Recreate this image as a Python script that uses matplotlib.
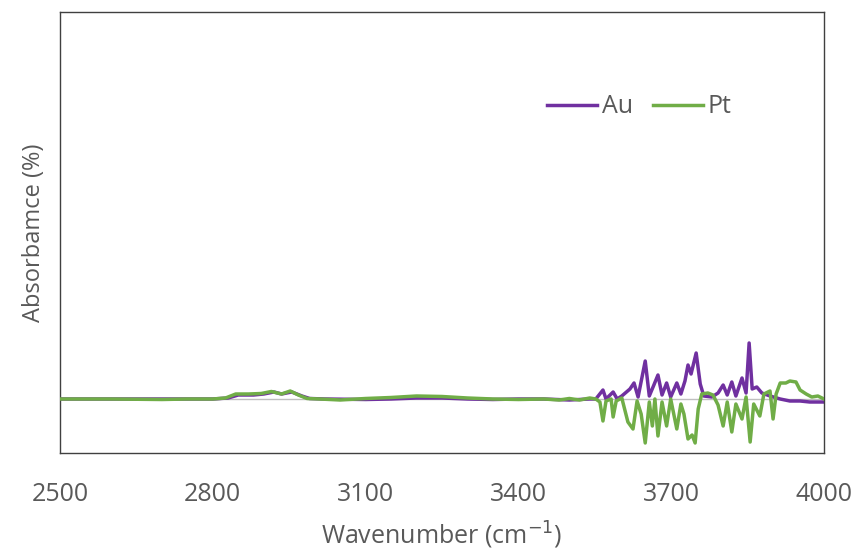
import matplotlib.pyplot as plt

plt.rcParams['font.family'] = ['Open Sans', 'DejaVu Sans']

# Au (purple) spectrum
au_wn = [2500, 2600, 2700, 2800, 2830, 2850, 2880, 2900, 2920, 2935, 2955, 2975, 2990,
         3020, 3100, 3150, 3200, 3250, 3300, 3350, 3400, 3450, 3500, 3540,
         3552, 3566, 3572, 3586, 3594, 3603, 3619, 3627, 3635, 3649, 3657, 3666,
         3674, 3682, 3691, 3699, 3711, 3719, 3727, 3733, 3739, 3749, 3757, 3764,
         3780, 3792, 3802, 3810, 3819, 3827, 3839, 3847, 3853, 3859, 3868, 3878,
         3894, 3914, 3933, 3953, 3972, 4000]
au_val = [0, 0, 0, 0, 0.1, 0.4, 0.4, 0.5, 0.7, 0.5, 0.7, 0.3, 0.05,
          0, -0.05, 0, 0.1, 0.1, 0, -0.05, 0, 0, -0.1, 0,
          0, 0.9, 0, 0.7, 0, 0.3, 1.0, 1.6, 0.2, 3.8, 0.3, 1.4,
          2.4, 0.4, 1.6, 0.2, 1.6, 0.5, 1.8, 3.4, 2.5, 4.6, 1.5, 0.3,
          0.2, 0.6, 1.4, 0.4, 1.7, 0.3, 2.1, 0.6, 5.6, 1.0, 1.2, 0.6,
          0.3, 0.0, -0.2, -0.2, -0.3, -0.3]

# Pt (green) spectrum
pt_wn = [2500, 2600, 2700, 2750, 2800, 2825, 2845, 2870, 2895, 2915, 2935, 2952, 2968,
         2985, 3010, 3050, 3100, 3150, 3200, 3250, 3300, 3350, 3400, 3450, 3480,
         3500, 3520, 3540,
         3552, 3560, 3566, 3572, 3582, 3586, 3592, 3603, 3615, 3625, 3633, 3641,
         3649, 3657, 3663, 3668, 3674, 3682, 3691, 3699, 3711, 3719, 3725, 3733,
         3741, 3747, 3753, 3760, 3772, 3782, 3792, 3802, 3810, 3819, 3827, 3839,
         3847, 3855, 3862, 3874, 3882, 3894, 3900, 3906, 3914, 3925, 3933, 3945,
         3953, 3965, 3976, 3988, 4000]
pt_val = [0, 0, -0.05, 0, 0, 0.1, 0.5, 0.5, 0.55, 0.75, 0.5, 0.8, 0.4,
          0.05, 0, -0.1, 0.05, 0.15, 0.3, 0.25, 0.1, 0, -0.05, 0, -0.1,
          0.05, -0.1, 0.1,
          0, -0.3, -2.2, -0.2, 0, -1.8, -0.2, 0.1, -2.3, -3.0, -0.2, -1.5,
          -4.4, -0.3, -2.7, 0, -3.7, -0.3, -2.7, 0, -3.0, -0.5, -1.5, -4.0,
          -3.6, -4.4, -1.0, 0.5, 0.6, 0.4, -0.6, -2.7, -0.3, -3.3, -0.5, -2.0,
          0.2, -4.3, -0.5, -1.7, 0.5, 0.8, -2.0, 0.5, 1.6, 1.6, 1.8, 1.7,
          0.9, 0.5, 0.2, 0.3, 0.0]

xticks = [2500, 2800, 3100, 3400, 3700, 4000]

fig = plt.figure(figsize=(8.59, 5.52), dpi=100)
ax = fig.add_axes([60 / 859, 1 - 453 / 552, 764 / 859, 441 / 552])

ax.axhline(0, color='#BFBFBF', lw=1, zorder=1)
ax.plot(au_wn, au_val, color='#7030A0', lw=2.5, label='Au', zorder=2)
ax.plot(pt_wn, pt_val, color='#70AD47', lw=2.5, label='Pt', zorder=3)

ax.set_xlim(2500, 4000)
ax.set_ylim(-5.4, 38.7)
ax.set_xticks(xticks)
ax.set_yticks([])
ax.tick_params(axis='x', length=0, pad=21, labelsize=18, labelcolor='#595959')
for s in ax.spines.values():
    s.set_color('#404040')
    s.set_linewidth(1)

ax.set_xlabel('Wavenumber (cm$^{-1}$)', fontsize=18, color='#595959', labelpad=9)
ax.set_ylabel('Absorbamce (%)', fontsize=17, color='#595959', labelpad=10)

ax.legend(loc='center', bbox_to_anchor=(0.758, 0.785), ncol=2, frameon=False,
          fontsize=18, labelcolor='#595959', handlelength=2.0, handletextpad=0.2,
          columnspacing=0.8)

fig.savefig('out.png', dpi=100)
